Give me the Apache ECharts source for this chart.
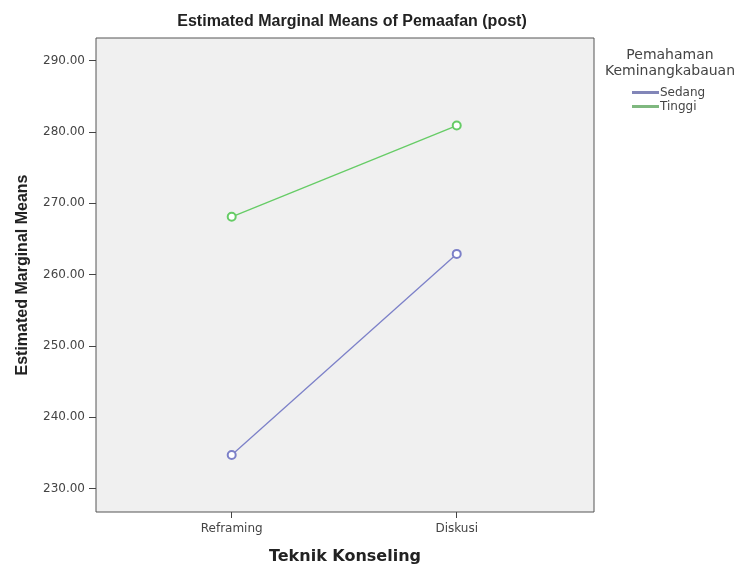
<!DOCTYPE html>
<html>
<head>
<meta charset="utf-8">
<script src="https://cdn.jsdelivr.net/npm/echarts@6/dist/echarts.min.js"></script>
<style>
  html, body { margin: 0; padding: 0; background: #fff; }
  #chart { width: 742px; height: 565px; }
</style>
</head>
<body>
<div id="chart"></div>
<script>
// kategori sumbu X (Teknik Konseling)
const categories = ['Reframing', 'Diskusi']
// rata-rata marginal per kelompok Pemahaman Keminangkabauan
const sedang = [234.7, 262.9]
const tinggi = [268.1, 280.9]
// label sumbu Y
const yTicks = [230, 240, 250, 260, 270, 280, 290]

const chart = echarts.init(document.getElementById('chart'))

const font = 'Liberation Sans, Arial, sans-serif'
const small = 'DejaVu Sans, sans-serif'

const option = {
  animation: false,
  title: [
    {
      text: 'Estimated Marginal Means of Pemaafan (post)',
      left: 347,
      top: 9,
      textAlign: 'center',
      textStyle: { fontFamily: font, fontSize: 16, fontWeight: 'bold', color: '#222' }
    },
    {
      text: 'Pemahaman\nKeminangkabauan',
      left: 665,
      top: 42,
      textAlign: 'center',
      textStyle: { fontFamily: small, fontSize: 14, fontWeight: 'normal', color: '#444', lineHeight: 16 }
    }
  ],
  legend: {
    orient: 'vertical',
    left: 632,
    top: 86,
    padding: 0,
    itemWidth: 25,
    itemHeight: 1,
    itemGap: 1,
    icon: 'rect',
    data: ['Sedang', 'Tinggi'],
    textStyle: { fontFamily: small, fontSize: 12, color: '#444', lineHeight: 13, padding: [0, 0, 0, -3] }
  },
  grid: {
    left: 96,
    right: 148,
    top: 38,
    bottom: 53,
    outerBoundsMode: 'none',
    show: true,
    backgroundColor: '#f0f0f0',
    borderColor: '#555',
    borderWidth: 1
  },
  xAxis: {
    type: 'value',
    min: -0.603,
    max: 1.61,
    name: 'Teknik Konseling',
    nameLocation: 'middle',
    nameGap: 37,
    nameTextStyle: { fontFamily: small, fontSize: 16, fontWeight: 'bold', color: '#222' },
    axisLine: { show: false, onZero: false },
    splitLine: { show: false },
    axisTick: { show: true, length: 6, customValues: [0, 1], lineStyle: { color: '#444' } },
    axisLabel: {
      customValues: [0, 1],
      formatter: v => categories[Math.round(v)],
      fontFamily: small,
      fontSize: 12,
      color: '#444',
      margin: 11
    }
  },
  yAxis: {
    type: 'value',
    min: 226.7,
    max: 293.18,
    name: 'Estimated Marginal Means',
    nameLocation: 'middle',
    nameGap: 65,
    nameTextStyle: { fontFamily: font, fontSize: 16, fontWeight: 'bold', color: '#222' },
    axisLine: { show: false, onZero: false },
    splitLine: { show: false },
    axisTick: { show: true, length: 7, customValues: yTicks, lineStyle: { color: '#444' } },
    axisLabel: {
      customValues: yTicks,
      formatter: v => v.toFixed(2),
      fontFamily: small,
      fontSize: 12,
      color: '#444',
      margin: 11
    }
  },
  series: [
    {
      name: 'Sedang',
      type: 'line',
      data: sedang.map((v, i) => [i, v]),
      color: '#7c80c8',
      symbol: 'emptyCircle',
      symbolSize: 8,
      lineStyle: { width: 1.3 },
      itemStyle: { borderColor: '#8286b8', borderWidth: 1 }
    },
    {
      name: 'Tinggi',
      type: 'line',
      data: tinggi.map((v, i) => [i, v]),
      color: '#66cc66',
      symbol: 'emptyCircle',
      symbolSize: 8,
      lineStyle: { width: 1.3 },
      itemStyle: { borderColor: '#7fb87f', borderWidth: 1 }
    }
  ]
}

chart.setOption(option)
window.addEventListener('resize', chart.resize)
</script>
</body>
</html>
